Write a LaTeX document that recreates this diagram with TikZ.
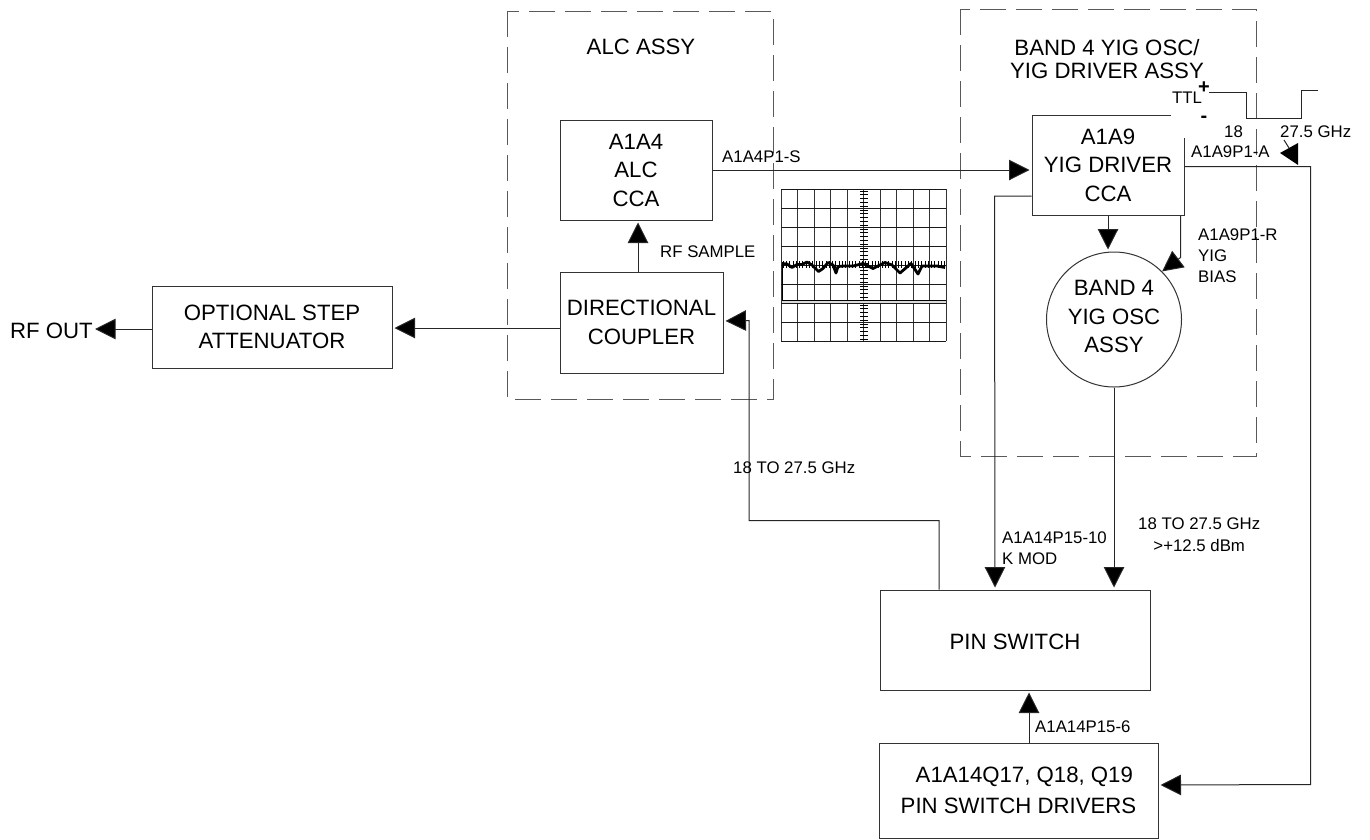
\documentclass[tikz,border=0pt]{standalone}
\usepackage{fontspec}
\setmainfont{Liberation Sans}
\usetikzlibrary{arrows.meta}
\begin{document}
\begin{tikzpicture}[x=1pt,y=-1pt,
	blockbox/.style={draw=black!80, line width=1pt, inner sep=0pt, align=center, font=\fontsize{22.2}{28.5}\selectfont, execute at begin node={\rule{0pt}{20pt}}},
	assybox/.style={draw=black!65, line width=1pt, dash pattern=on 26pt off 10pt},
	sig/.style={draw=black!85, line width=1pt},
	sigarrow/.style={sig, -{Triangle[length=20.5pt,width=20.5pt,fill=black]}, shorten >=2pt},
	biglabel/.style={inner sep=0pt, align=center, font=\fontsize{22.2}{23}\selectfont},
	smalllabel/.style={inner sep=0pt, align=left, anchor=west, font=\fontsize{16.8}{21}\selectfont}]
	\useasboundingbox (0,0) rectangle (1370,839);
	%---------------- ASSY OUTLINES ----------------
	\draw[assybox] (507,11) rectangle (773,399);
	\draw[assybox] (960,9) rectangle (1256,456);
	\node[biglabel] (alctitle) at (641,47) {ALC ASSY};
	\node[biglabel] (yigtitle) at (1107,59) {BAND 4 YIG OSC/\\YIG DRIVER ASSY};
	%---------------- BLOCKS ----------------
	\node[blockbox, minimum width=240pt, minimum height=82pt] (opt) at (272,327) {OPTIONAL STEP\\ATTENUATOR};
	\node[blockbox, minimum width=163pt, minimum height=101pt] (dc) at (641.5,322.5) {DIRECTIONAL\\COUPLER};
	\node[blockbox, minimum width=152pt, minimum height=100pt] (alc) at (636,170) {A1A4\\ALC\\CCA};
	\node[blockbox, minimum width=152pt, minimum height=100pt] (drv) at (1108,165) {A1A9\\YIG DRIVER\\CCA};
	\node[blockbox, circle, minimum size=135pt, execute at begin node={}] (yigosc) at (1114,319.5) {BAND 4\\YIG OSC\\ASSY\rule[-6pt]{0pt}{6pt}};
	\node[blockbox, minimum width=270pt, minimum height=100pt] (pin) at (1015,640) {PIN SWITCH};
	\node[blockbox, minimum width=279pt, minimum height=95pt, align=left, font=\fontsize{22.2}{31}\selectfont] (pindrv) at (1018.5,790.5) {\hspace*{15pt}A1A14Q17, Q18, Q19\\PIN SWITCH DRIVERS};
	\fill[white] (1171,105) rectangle (1191,138);
	\node[biglabel, anchor=west] (rfout) at (10,331) {RF OUT};
	%---------------- CONNECTORS ----------------
	\draw[sigarrow] ([yshift=-2pt]opt.west) -- (rfout.east |- 0,329);
	\draw[sigarrow] ([yshift=-5.5pt]dc.west) -- ([yshift=-1pt]opt.east);
	\draw[sigarrow] ([xshift=-3.5pt]dc.north) -- ([xshift=2pt]alc.south);
	\draw[sigarrow] (alc.east) -- ([yshift=-5pt]drv.west);
	\draw[sigarrow] ([yshift=-31pt]drv.west) -- ++(-37,0) -- ([xshift=-20pt]pin.north);
	\draw[sigarrow] (drv.south) -- (yigosc.north -| drv.south);
	\draw[sig, -{Triangle[length=20.5pt,width=20.5pt,fill=black]}] ([xshift=-4pt]drv.south east) -- ++(0,42) -- (yigosc.45);
	\draw[sigarrow] (yigosc.south) -- (yigosc.south |- pin.north);
	\draw[sigarrow] ([xshift=-76pt]pin.north) -- ++(0,-69) -- ++(-190,0) -- ++(0,-200) -- ([yshift=1.5pt]dc.east);
	\draw[sigarrow] ([xshift=10.5pt]pindrv.north) -- ([xshift=14pt]pin.south);
	\draw[sigarrow] ([yshift=-1.5pt]drv.east) -- ++(126,0) -- ++(0,618) -- ([yshift=5.5pt]pindrv.east);
	%---------------- TTL ----------------
	\draw[sig] (1209,92) -- (1246,92) -- (1246,118) -- (1301,118) -- (1301,90) -- (1318,90);
	\fill[black] (1280,153) -- (1298,143) -- (1298,165) -- cycle;
	\draw[sig] (1284,140) -- (1289,148);
	%---------------- SCOPE ----------------
	\foreach \x in {0,...,10}
		\draw[black!80, line width=1pt] (781+16.5*\x,189) -- (781+16.5*\x,341);
	\foreach \y in {0,...,8}
		\draw[black!90, line width=1pt] (781,189+19*\y) -- (946,189+19*\y);
	\foreach \y in {0,...,39}
		\draw[black, line width=0.7pt] (860,191+3.8*\y) -- (867.5,191+3.8*\y);
	\foreach \x in {0,...,49}
		\draw[black, line width=0.7pt] (783+3.3*\x,261) -- (783+3.3*\x,268);
	\fill[black!15] (782,300) rectangle (946,303);
	\draw[black, line width=0.9pt] (782,264) -- (782,300) -- (946,300);
	\draw[black, line width=2.8pt, line join=round] (782,263.5) -- (787,264) -- (792,267.5) -- (797,264.5) -- (802,264.5) -- (807,262) -- (812,265) -- (818.5,271.5) -- (823,268.5) -- (828,262.5) -- (833,265) -- (836,273) -- (838,266.5) -- (843,266) -- (853,266) -- (863,263.5) -- (873,268.5) -- (885,262.5) -- (892,265) -- (900,273) -- (911,263.5) -- (918,274) -- (922,266) -- (937,266) -- (945,267.5);
	%---------------- LABELS ----------------
	\node[smalllabel] (l1) at (722,157) {A1A4P1-S};
	\node[smalllabel] (l2) at (660,252) {RF SAMPLE};
	\node[smalllabel] (l3) at (733,468) {18 TO 27.5 GHz};
	\node[smalllabel] (l4) at (1002,548) {A1A14P15-10\\K MOD};
	\node[smalllabel, align=center] (l5) at (1138,535) {18 TO 27.5 GHz\\[1pt]>+12.5 dBm};
	\node[smalllabel] (l6) at (1035,727) {A1A14P15-6};
	\node[smalllabel] (l7) at (1198,256) {A1A9P1-R\\YIG\\BIAS};
	\node[smalllabel] (l8) at (1191,152) {A1A9P1-A};
	\node[smalllabel] (l9) at (1224,132) {18};
	\node[smalllabel] (l10) at (1280,132) {27.5 GHz};
	\node[smalllabel] (l11) at (1172,98) {TTL};
	\node[biglabel, font=\bfseries\fontsize{20}{23}\selectfont] (plus) at (1204,88) {+};
	\node[biglabel, font=\bfseries\fontsize{20}{23}\selectfont] (minus) at (1204,119) {-};
\end{tikzpicture}
\end{document}
